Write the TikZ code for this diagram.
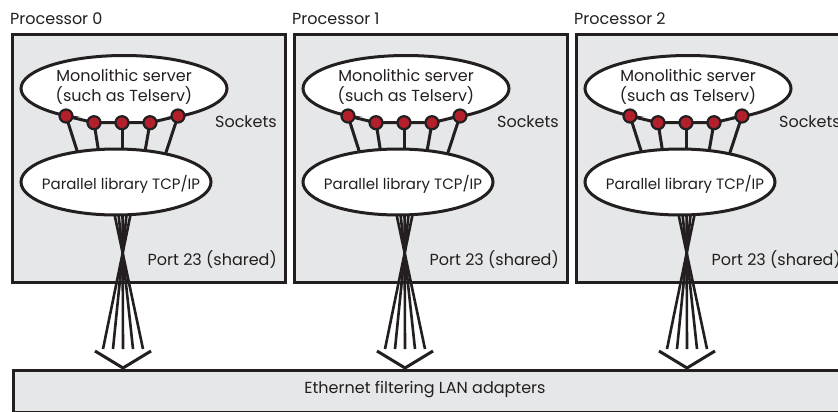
\documentclass[tikz,border=0pt]{standalone}
\usepackage{fontspec}
\setmainfont{Poppins}
\usetikzlibrary{shapes.geometric}
\definecolor{panel}{HTML}{E6E7E8}
\definecolor{sockred}{HTML}{B3202C}
\definecolor{edge}{HTML}{231F20}
\tikzset{
  panelbox/.style={draw=edge, line width=3pt, fill=panel},
  oval/.style={ellipse, draw=edge, line width=3pt, fill=white, inner sep=0pt},
  ovalfill/.style={ellipse, fill=white, inner sep=0pt},
  ovaltext/.style={inner sep=0pt, font=\fontsize{16}{20}\selectfont,
    align=center, text=edge},
  socket/.style={circle, draw=edge, line width=2.2pt, fill=sockred,
    minimum size=13pt, inner sep=0pt},
  wire/.style={draw=edge, line width=3pt, line join=round},
  fanline/.style={draw=edge, line width=2.6pt},
  vhead/.style={draw=edge, line width=3pt, miter limit=10},
  lbl/.style={font=\fontsize{16}{18}\selectfont, inner sep=0pt, text=edge},
}
\begin{document}
\begin{tikzpicture}[x=1pt,y=-1pt]
\useasboundingbox (0,0) rectangle (838,412);
\clip (0,0) rectangle (838,412);
\fill[white] (0,0) rectangle (838,412);

% Ethernet bar
\node[panelbox, anchor=north west, minimum width=840pt, minimum height=41.5pt,
      inner sep=0pt] (eth) at (11.5,369) {};
\node[lbl] (ethtxt) at (425,389.5) {Ethernet filtering LAN adapters};

\foreach \k/\off in {0/0,1/282,2/564}{
  \begin{scope}[shift={(\off,0)}]
    % processor label and panel
    \node[lbl, anchor=base west] (plbl\k) at (10,25) {Processor \k};
    \node[panelbox, anchor=north west, minimum width=273pt, minimum height=247pt,
          inner sep=0pt] (box\k) at (11.3,33.5) {};
    \node[lbl, anchor=east] (sock\k) at (277,122) {Sockets};
    \node[lbl, anchor=east] (port\k) at (277,260) {Port 23 (shared)};

    % coordinates
    \coordinate (s\k-1) at (66,116);
    \coordinate (s\k-2) at (94,122.7);
    \coordinate (s\k-3) at (122,122.7);
    \coordinate (s\k-4) at (150,122.7);
    \coordinate (s\k-5) at (178,116);
    \coordinate (e\k-1) at (80,160);
    \coordinate (e\k-2) at (100,160);
    \coordinate (e\k-3) at (122,160);
    \coordinate (e\k-4) at (143.5,160);
    \coordinate (e\k-5) at (163.5,160);

    % fan from library to the LAN adapters
    \foreach \i/\t/\b in {1/112.5/143,2/117.5/133,3/122.5/123,4/127.5/113,5/132.5/103}{
      \coordinate (ft\k-\i) at (\t,205);
      \coordinate (fb\k-\i) at (\b,349);
      \draw[fanline] (ft\k-\i) -- (fb\k-\i);
    }
    % arrow head
    \coordinate (va\k) at (95,351);
    \coordinate (vb\k) at (151,351);
    \coordinate (vt\k) at (123,368);
    \draw[vhead] (va\k) -- (vt\k) -- (vb\k);

    % wires from sockets to library
    \foreach \i in {1,...,5}{ \draw[wire] (s\k-\i) -- (e\k-\i); }

    % server oval: arc above the sockets, closed by the socket chain
    \node[ovalfill, minimum width=206pt, minimum height=66pt] (srv\k) at (124,88.5) {};
    \fill[white] (s\k-1) -- (s\k-2) -- (s\k-3) -- (s\k-4) -- (s\k-5) -- cycle;
    \begin{scope}
      \clip (0,0) rectangle (300,116);
      \draw[edge, line width=3pt] (srv\k.center) ellipse [x radius=103, y radius=33];
    \end{scope}
    \node[ovaltext] (srvt\k) at (124,87) {Monolithic server\\(such as Telserv)};

    % library oval
    \node[oval, minimum width=190pt, minimum height=66pt] (lib\k) at (116,182) {};
    \node[ovaltext, font=\fontsize{15}{18}\selectfont] (libt\k) at (121,184)
      {Parallel library TCP/IP};

    % socket chain
    \draw[wire] (s\k-1) -- (s\k-2) -- (s\k-3) -- (s\k-4) -- (s\k-5);
    \foreach \i in {1,...,5}{ \node[socket] (sk\k-\i) at (s\k-\i) {}; }
  \end{scope}
}
\end{tikzpicture}
\end{document}
